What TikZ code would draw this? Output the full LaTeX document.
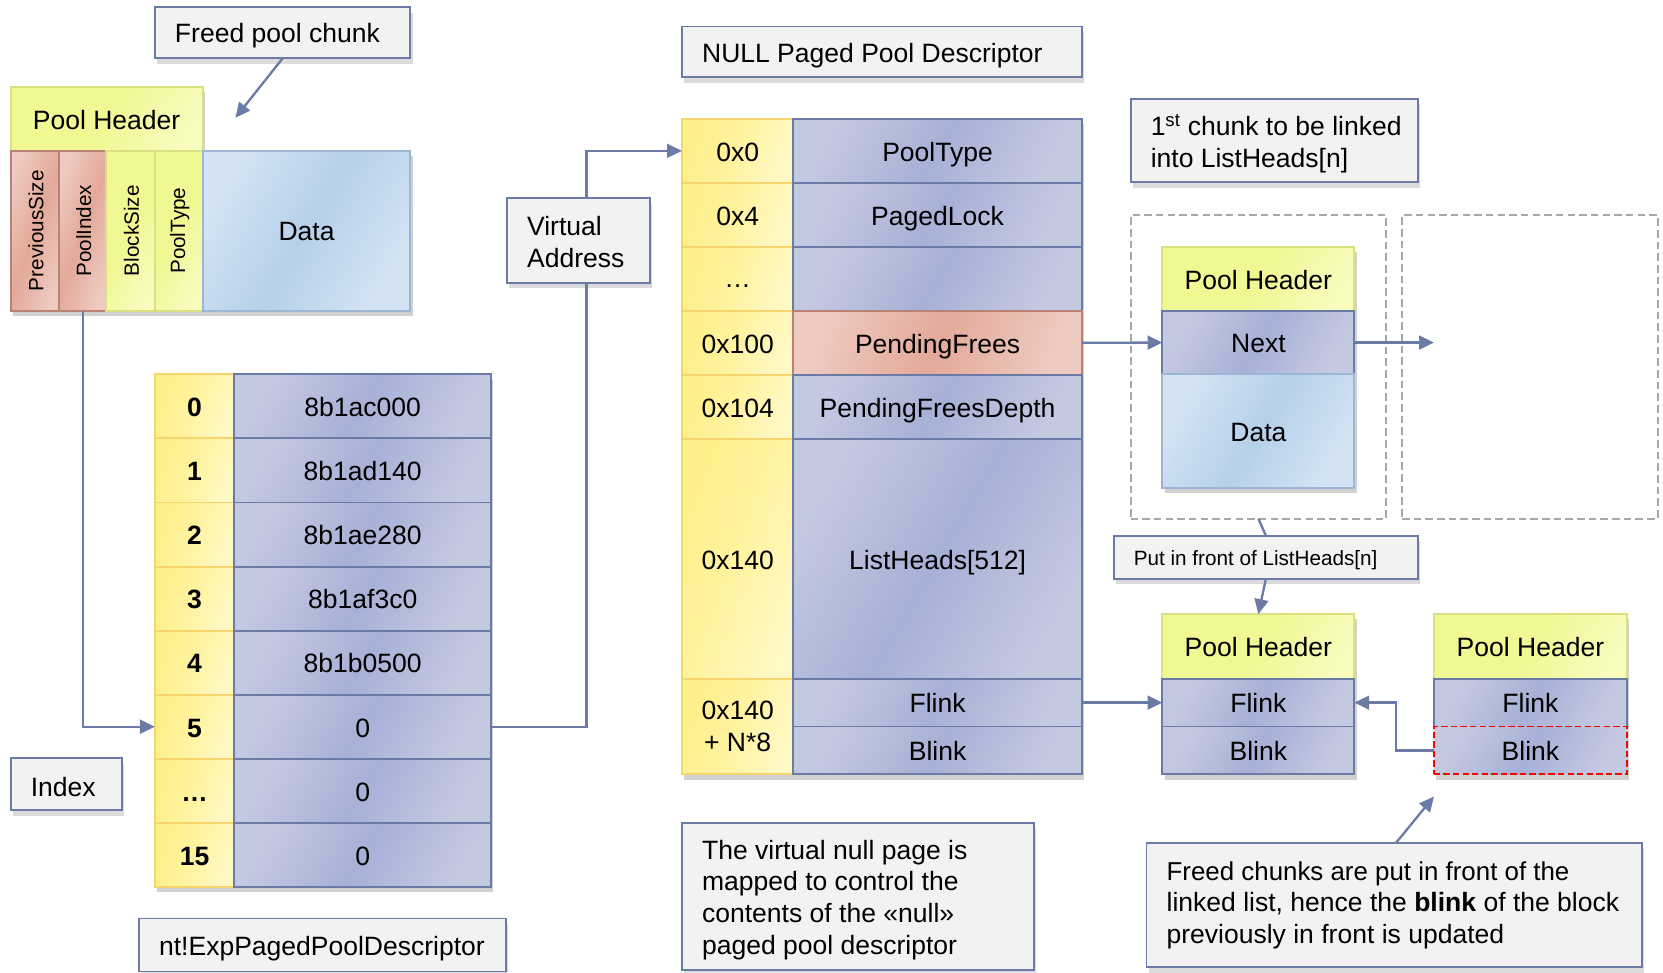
\documentclass[tikz,border=0pt]{standalone}
\usepackage{fontspec}
\setmainfont{Liberation Sans}
\usetikzlibrary{arrows.meta,shadows}

\definecolor{edge}{HTML}{6C7AA6}
\definecolor{cellA}{HTML}{C4C9E2}
\definecolor{cellB}{HTML}{A7B0D6}
\definecolor{goldA}{HTML}{FFEF88}
\definecolor{goldB}{HTML}{FFF9C6}
\definecolor{goldE}{HTML}{F6D46E}
\definecolor{hdrA}{HTML}{F1F793}
\definecolor{hdrB}{HTML}{F7FBBB}
\definecolor{hdrE}{HTML}{D9E080}
\definecolor{redA}{HTML}{E3A999}
\definecolor{redB}{HTML}{EECAC1}
\definecolor{redE}{HTML}{B98272}
\definecolor{datA}{HTML}{B6D0EA}
\definecolor{datB}{HTML}{D3E3F3}
\definecolor{datE}{HTML}{9CB6D6}
\definecolor{lblfill}{HTML}{F2F2F2}
\definecolor{dashgray}{HTML}{A8A8A8}

\tikzset{
  base/.style={inner sep=0pt, outer sep=0pt, anchor=north west, line width=1.8pt,
    font=\fontsize{25}{30}\selectfont},
  oneline/.style={text height=20pt, text depth=0.6pt},
  txt/.style={inner sep=0pt, outer sep=0pt, font=\fontsize{25}{30}\selectfont},
  fldc/.style={draw=edge, left color=cellA, right color=cellA, middle color=cellB, shading angle=60},
  idxc/.style={draw=goldE, left color=goldA, right color=goldB, middle color=goldA!60!goldB, shading angle=70},
  hdrc/.style={draw=hdrE, left color=hdrA, right color=hdrB, middle color=hdrA, shading angle=60},
  redc/.style={draw=redE, left color=redB, right color=redB, middle color=redA, shading angle=70},
  datc/.style={draw=datE, left color=datB, right color=datB, middle color=datA, shading angle=60},
  fld/.style={base, oneline, fldc},
  idx/.style={base, oneline, idxc},
  hdr/.style={base, oneline, hdrc},
  redf/.style={base, oneline, redc},
  dat/.style={base, oneline, datc},
  lab/.style={base, draw=edge, fill=lblfill,
    drop shadow={shadow xshift=2pt, shadow yshift=-5pt, opacity=0.28}},
  dbox/.style={base, draw=dashgray, dash pattern=on 7pt off 4pt, line width=1.8pt},
  wire/.style={draw=edge, line width=2.2pt},
  conn/.style={wire, -{Triangle[length=14pt, width=13pt]}},
}

% a grey caption box with its text set flush left (optional: vertical text shift)
\newcommand\labelbox[7][-3pt]{%
  \node[lab, minimum width=#5pt, minimum height=#6pt] (#2) at (#3,#4) {};
  \node[txt, anchor=west, align=left, yshift=#1] at ([xshift=19pt]#2.west) {#7};
}
% soft shadow under a block of cells
\newcommand\blockshadow[4]{%
  \fill[black, opacity=0.18] ({#1+2},{#2+5}) rectangle ({#3+2},{#4+5});
}

\begin{document}
\begin{tikzpicture}[x=1pt, y=-1pt]
\fill[white] (0,0) rectangle (1568,917);
\useasboundingbox (0,0) rectangle (1568,917);

% ---------- freed pool chunk ----------
\labelbox{fpc}{146}{7}{241}{48}{Freed pool chunk}
\blockshadow{10}{82}{191}{142}
\blockshadow{10}{142}{387}{293}
\node[hdr, minimum width=181pt, minimum height=60pt] (ph0) at (10,82) {Pool Header};
\node[redf, minimum width=46pt, minimum height=151pt] (psz) at (10,142) {};
\node[redf, minimum width=44pt, minimum height=151pt] (pidx) at (56,142) {};
\node[hdr, minimum width=46pt, minimum height=151pt] (bsz) at (100,142) {};
\node[hdr, minimum width=45pt, minimum height=151pt] (ptyp) at (146,142) {};
\node[dat, minimum width=196pt, minimum height=151pt] (dat0) at (191,142) {Data};
\foreach \c/\t in {psz/PreviousSize, pidx/PoolIndex, bsz/BlockSize, ptyp/PoolType}
  \node[txt, rotate=90, font=\fontsize{19.5}{23}\selectfont] at ([xshift=1pt]\c.center) {\t};
\coordinate (fpcTip) at (222,111);
\draw[conn] (fpc.south) -- (fpcTip);

% ---------- nt!ExpPagedPoolDescriptor table ----------
\blockshadow{146}{353}{463}{836.2}
\foreach \key/\val [count=\row from 0] in
  {0/8b1ac000, 1/8b1ad140, 2/8b1ae280, 3/8b1af3c0, 4/8b1b0500, 5/0, …/0, 15/0}{
  \node[idx, minimum width=75pt, minimum height=60.4pt] (i\row) at (146,{353+60.4*\row}) {\bfseries\key};
  \node[fld, minimum width=242pt, minimum height=60.4pt] (v\row) at (221,{353+60.4*\row}) {\val};
}
\labelbox{idxlbl}{10}{715}{105}{49}{Index}
\labelbox{ntd}{131}{866}{346}{50}{nt!ExpPagedPoolDescriptor}
\draw[conn] (pidx.south) |- (i5.west);

% ---------- NULL paged pool descriptor ----------
\labelbox{npd}{643}{25}{377}{48}{NULL Paged Pool Descriptor}
\blockshadow{643}{112}{1020}{730}
\node[idx, minimum width=105pt, minimum height=60.5pt] (o0) at (643,112) {0x0};
\node[fld, minimum width=272pt, minimum height=60.5pt] (n0) at (748,112) {PoolType};
\node[idx, minimum width=105pt, minimum height=60.5pt] (o1) at (643,172.5) {0x4};
\node[fld, minimum width=272pt, minimum height=60.5pt] (n1) at (748,172.5) {PagedLock};
\node[idx, minimum width=105pt, minimum height=60pt, text height=17pt] (o2) at (643,233) {…};
\node[fld, minimum width=272pt, minimum height=60pt] (n2) at (748,233) {};
\node[idx, minimum width=105pt, minimum height=60.5pt] (o3) at (643,293) {0x100};
\node[redf, minimum width=272pt, minimum height=60.5pt] (n3) at (748,293) {PendingFrees};
\node[idx, minimum width=105pt, minimum height=60.5pt] (o4) at (643,353.5) {0x104};
\node[fld, minimum width=272pt, minimum height=60.5pt] (n4) at (748,353.5) {PendingFreesDepth};
\node[idx, minimum width=105pt, minimum height=226pt] (o5) at (643,414) {0x140};
\node[fld, minimum width=272pt, minimum height=226pt] (n5) at (748,414) {ListHeads[512]};
\node[base, idxc, minimum width=105pt, minimum height=90pt, align=center] (o6) at (643,640) {0x140\\+ N*8};
\node[fld, minimum width=272pt, minimum height=45pt] (nf) at (748,640) {Flink};
\node[fld, minimum width=272pt, minimum height=45pt] (nb) at (748,685) {Blink};

% virtual address link, running behind its caption
\coordinate (vaX) at (553,142);
\draw[conn] (v5.east) -- (v5.east -| vaX) |- (o0.west);
\labelbox[-1pt]{va}{478}{187}{135}{80}{Virtual\\Address}

\labelbox{vnp}{643}{776}{332}{139}{The virtual null page is\\mapped to control the\\contents of the «null»\\paged pool descriptor}

% ---------- pending frees list ----------
\labelbox{first}{1066}{93}{271}{79}{1\textsuperscript{st} chunk to be linked\\into ListHeads[n]}
\node[dbox, minimum width=241pt, minimum height=286pt] (db1) at (1066,203) {};
\node[dbox, minimum width=241pt, minimum height=286pt] (db2) at (1322,203) {};
\blockshadow{1096}{233}{1277}{460}
\node[hdr, minimum width=181pt, minimum height=60pt] (phA) at (1096,233) {Pool Header};
\node[fld, minimum width=181pt, minimum height=60pt] (nxt) at (1096,293) {Next};
\node[dat, minimum width=181pt, minimum height=107pt] (datA) at (1096,353) {Data};
\coordinate (nxtEnd) at (1352,323);
\draw[conn] (n3.east) -- (nxt.west);
\draw[conn] (nxt.east) -- (nxtEnd);

% ---------- list heads ----------
\labelbox{put}{1050}{505}{287}{41}{\fontsize{19.5}{23}\selectfont Put in front of ListHeads[n]}
\blockshadow{1096}{579}{1277}{730}
\node[hdr, minimum width=181pt, minimum height=61pt] (phB) at (1096,579) {Pool Header};
\node[fld, minimum width=181pt, minimum height=45pt] (fB) at (1096,640) {Flink};
\node[fld, minimum width=181pt, minimum height=45pt] (bB) at (1096,685) {Blink};
\blockshadow{1352}{579}{1534}{730}
\node[hdr, minimum width=182pt, minimum height=61pt] (phC) at (1352,579) {Pool Header};
\node[fld, minimum width=182pt, minimum height=45pt] (fC) at (1352,640) {Flink};
\node[fld, minimum width=182pt, minimum height=45pt, draw=red, dash pattern=on 6pt off 3pt] (bC) at (1352,685) {Blink};

\draw[wire] (db1.south) -- (put.north);
\draw[conn] (put.south) -- (phB.north);
\draw[conn] (nf.east) -- (fB.west);
\coordinate (bkX) at (1316,700);
\draw[conn] (bC.west) -- (bC.west -| bkX) |- (fB.east);

\labelbox[0pt]{fc}{1081}{795}{467}{117}{\fontsize{24.4}{30}\selectfont Freed chunks are put in front of the\\linked list, hence the \textbf{blink} of the block\\previously in front is updated}
\coordinate (fcTip) at (1352,751);
\draw[conn] (fc.north -| bkX) -- (fcTip);
\end{tikzpicture}
\end{document}
